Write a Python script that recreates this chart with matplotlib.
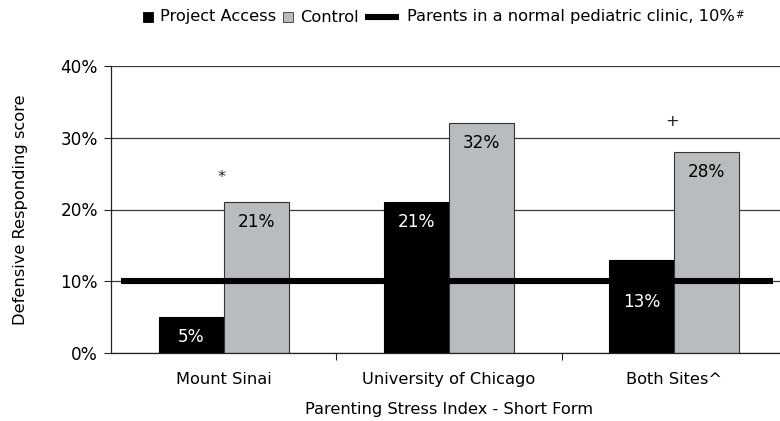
import matplotlib
matplotlib.use("Agg")
import matplotlib.pyplot as plt
import numpy as np
from matplotlib.patches import Rectangle
from matplotlib.lines import Line2D
from matplotlib.offsetbox import DrawingArea, TextArea, HPacker, AnchoredOffsetbox

categories = ["Mount Sinai", "University of Chicago", "Both Sites^"]
project_access = [5, 21, 13]
control = [21, 32, 28]
normal_clinic = 10
sig_marks = ["*", "", "+"]
sig_levels = [24.4, 0, 32.3]
yticks = [0, 10, 20, 30, 40]
ytick_labels = ["0%", "10%", "20%", "30%", "40%"]
legend_labels = ["Project Access", "Control", "Parents in a normal pediatric clinic, 10%"]
legend_superscripts = ["", "", "#"]

plt.rcParams['font.family'] = ['DejaVu Sans']
FS = 11.7
NFS = 12.2
fig = plt.figure(figsize=(7.8, 4.21), dpi=100)
ax = fig.add_axes([111/780, 1-353.3/421, 676/780, (353.3-65.7)/421])

x = np.arange(len(categories))
w = 0.288
grey = "#B9BCBE"
ax.set_axisbelow(True)
ax.yaxis.grid(True, color="#3a3a3a", linewidth=0.9)
ax.bar(x - w/2, project_access, width=w, color="black", edgecolor="black", linewidth=0.8, zorder=2)
ax.bar(x + w/2, control, width=w, color=grey, edgecolor="#333333", linewidth=0.8, zorder=2)
ax.axhline(normal_clinic, xmin=0.015, xmax=0.979, color="black", linewidth=4.4,
           solid_capstyle="butt", zorder=3)

label_offsets = {(0, 2): -30.5}
for i, v in enumerate(project_access):
    off = label_offsets.get((0, i), -14.3)
    ax.annotate(f"{v}%", (x[i] - w/2, v), xytext=(0, off), textcoords="offset points",
                ha="center", va="center", color="white", fontsize=NFS, zorder=4)
for i, v in enumerate(control):
    ax.annotate(f"{v}%", (x[i] + w/2, v), xytext=(0, -14.5), textcoords="offset points",
                ha="center", va="center", color="black", fontsize=NFS, zorder=4)
for i, m in enumerate(sig_marks):
    if m:
        ax.text(x[i] - 0.01, sig_levels[i], m, ha="center", va="center", fontsize=FS, color="#222222")

ax.set_xlim(-0.5, 2.5)
ax.set_ylim(0, 40)
ax.set_yticks(yticks)
ax.set_yticklabels(ytick_labels, fontsize=NFS)
ax.set_xticks([0.5, 1.5])
ax.set_xticklabels([])
ax.set_xticks(x, minor=True)
ax.set_xticklabels(categories, minor=True, fontsize=FS)
ax.tick_params(axis="x", which="minor", length=0, pad=13.5)
ax.tick_params(axis="x", which="major", length=5, color="#222222")
ax.tick_params(axis="y", length=5, pad=4.5, color="#222222")
for s in ["top", "right"]:
    ax.spines[s].set_visible(False)
for s in ["left", "bottom"]:
    ax.spines[s].set_color("#222222")
    ax.spines[s].set_linewidth(0.9)

ax.set_xlabel("Parenting Stress Index - Short Form", fontsize=FS, labelpad=11)
ax.set_ylabel("Defensive Responding score", fontsize=FS, labelpad=23)

# Legend built from pieces so each handle can have its own width
def square(color, edge):
    da = DrawingArea(7.2, 7.2, 0, 0)
    da.add_artist(Rectangle((0, 0), 7.2, 7.2, facecolor=color, edgecolor=edge, linewidth=0.6))
    return da

def thick_line():
    da = DrawingArea(25, 7.2, 0, 0)
    da.add_artist(Line2D([0, 25], [3.6, 3.6], color="black", linewidth=4.4, solid_capstyle="butt"))
    return da

def label_box(text, sup):
    main = TextArea(text, textprops=dict(fontsize=FS, color="black"))
    if not sup:
        return main
    small = TextArea(sup, textprops=dict(fontsize=FS * 0.62, color="black"))
    return HPacker(children=[main, small], align="top", pad=0, sep=0.5)

handles = [square("black", "black"), square(grey, "#333333"), thick_line()]
entries = [HPacker(children=[h, label_box(t, s)], align="center", pad=0, sep=5.2)
           for h, t, s in zip(handles, legend_labels, legend_superscripts)]
row = HPacker(children=entries, align="center", pad=0, sep=4.5)
anch = AnchoredOffsetbox(loc="center left", child=row, pad=0, frameon=False,
                         bbox_to_anchor=(143/780, 1-17/421), bbox_transform=fig.transFigure,
                         borderpad=0)
fig.add_artist(anch)

fig.savefig("out.png", dpi=100)
